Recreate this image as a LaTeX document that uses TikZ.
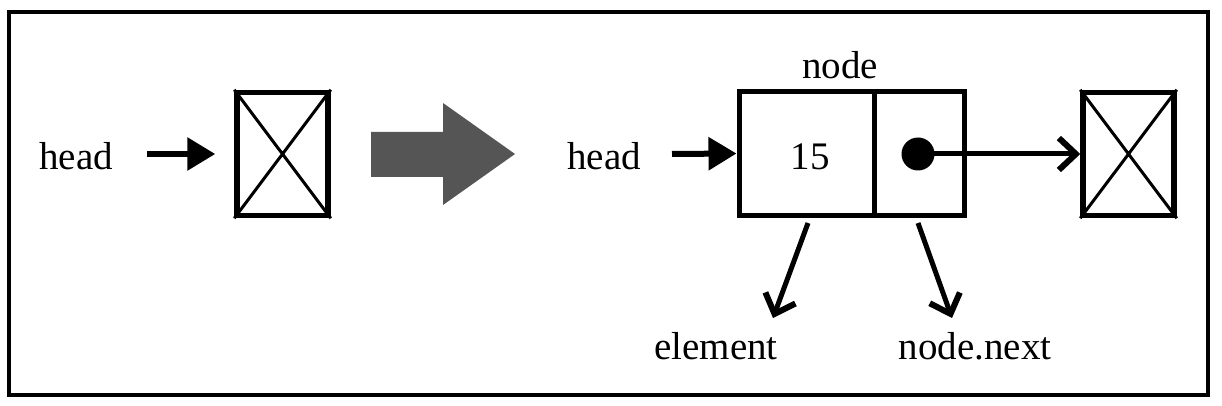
\documentclass[tikz,border=0pt]{standalone}
\usepackage{fontspec}
\setmainfont{Liberation Serif}
\usetikzlibrary{arrows.meta}
\begin{document}
\begin{tikzpicture}[x=1pt,y=-1pt,
  lbl/.style={inner sep=0pt,anchor=base,font=\fontsize{39}{41}\selectfont},
  xbox/.style={draw,line width=5.5pt,minimum width=91pt,minimum height=123pt,inner sep=0pt},
  cell/.style={draw,line width=5pt,minimum height=123pt,inner sep=0pt},
  solidarr/.style={line width=6pt,-{Triangle[length=28pt,width=32pt]}},
  openarr/.style={line width=5pt,-{Straight Barb[length=17pt,width=32pt,line width=6pt]}},
  diag/.style={line width=3pt}]
\useasboundingbox (0,0) rectangle (1222,406);
\draw[line width=4pt] (9,12) rectangle (1208,395);
% left part
\node[lbl] (h1) at (76,169) {head};
\node[xbox] (x1) at (282.5,154) {};
\draw[diag] (x1.north west) -- (x1.south east) (x1.south west) -- (x1.north east);
\coordinate (a1s) at (147,154);
\draw[solidarr,shorten >=19pt] (a1s) -- (x1.west);
% big gray arrow
\fill[fill={rgb,255:red,85;green,85;blue,85}] (371,132) -- (443,132) -- (443,103) -- (515,154) -- (443,205) -- (443,177) -- (371,177) -- cycle;
% right part
\node[lbl] (h2) at (604,169) {head};
\node[cell,minimum width=135pt] (c1) at (806.5,153.5) {};
\node[cell,minimum width=90pt] (c2) at (919,153.5) {};
\node[lbl] (v) at (810,170) {15};
\node[lbl] (nd) at (840,79) {node};
\coordinate (a2s) at (672,154);
\draw[solidarr] (a2s) -- (c1.west);
\node[xbox] (x2) at (1128.5,154) {};
\draw[diag] (x2.north west) -- (x2.south east) (x2.south west) -- (x2.north east);
\node[circle,fill,inner sep=0pt,minimum size=33pt] (dot) at (918,154) {};
\draw[openarr] (dot.center) -- (x2.west);
\node[lbl] (el) at (716,359) {element};
\node[lbl] (nn) at (975,359) {node.next};
\coordinate (e1) at (808,223);
\coordinate (e1t) at (773,318);
\coordinate (e2) at (918,223);
\coordinate (e2t) at (952,318);
\draw[openarr] (e1) -- (e1t);
\draw[openarr] (e2) -- (e2t);
\end{tikzpicture}
\end{document}
